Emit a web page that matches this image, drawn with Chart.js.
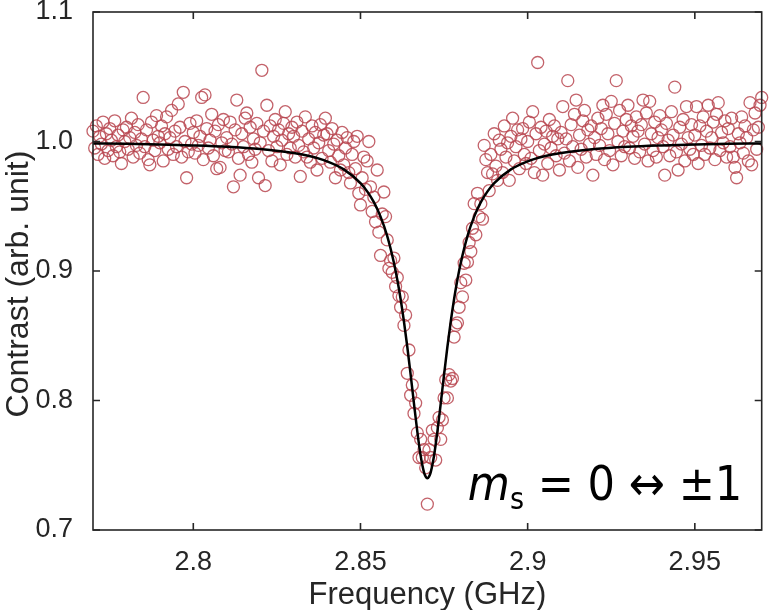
<!DOCTYPE html>
<html>
<head>
<meta charset="utf-8">
<script src="https://cdn.jsdelivr.net/npm/chart.js@4.4.1/dist/chart.umd.min.js"></script>
<style>
  html, body { margin: 0; padding: 0; background: #fff; }
</style>
</head>
<body>
<canvas id="odmr" width="769" height="610"></canvas>
<script>
// frequency sweep: 2.77 GHz to 2.97 GHz in 0.5 MHz steps
const freqStart = 2.77;
const freqStep = 0.0005;

// measured contrast, one value per sweep step (401 points)
const contrast = [
  1.008, 0.995, 1.012, 0.990, 1.004, 0.998, 1.015, 0.987, 1.006, 0.993, 1.010, 1.001, 0.989, 1.016, 0.996, 1.005, 0.992, 0.983, 1.009, 1.000,
  1.011, 0.994, 1.003, 1.018, 0.988, 1.007, 0.997, 1.013, 0.991, 1.002, 1.034, 0.996, 1.009, 0.986, 0.982, 1.015, 1.001, 0.993, 1.020, 1.004,
  0.999, 1.012, 0.985, 1.006, 1.019, 0.994, 1.003, 1.024, 0.990, 1.008, 0.996, 1.029, 1.011, 0.988, 1.038, 1.000, 0.972, 0.992, 1.014, 0.998,
  1.007, 0.991, 1.016, 0.997, 1.004, 1.034, 0.986, 1.036, 1.010, 0.995, 1.001, 1.021, 0.989, 1.008, 0.979, 1.013, 0.980, 0.999, 1.017, 0.993,
  1.003, 0.992, 1.015, 0.998, 0.965, 1.009, 1.032, 0.987, 0.974, 1.006, 0.996, 1.018, 1.022, 0.990, 1.011, 0.984, 1.002, 0.994, 1.014, 0.972,
  0.999, 1.055, 1.008, 0.966, 1.028, 0.993, 1.012, 0.985, 1.004, 1.017, 0.996, 1.009, 0.982, 1.001, 1.014, 1.023, 0.990, 1.006, 0.995, 1.011,
  1.004, 0.988, 1.015, 0.997, 0.973, 1.008, 0.992, 1.019, 0.988, 1.002, 0.984, 1.012, 0.995, 1.007, 0.978, 0.999, 1.013, 0.987, 1.005, 1.018,
  1.006, 0.993, 0.984, 1.010, 0.998, 0.972, 1.001, 0.989, 0.978, 1.007, 0.982, 0.995, 1.003, 0.976, 0.968, 0.990, 1.000, 0.979, 1.004, 0.960,
  0.951, 0.972, 0.988, 0.963, 0.985, 1.000, 0.965, 0.946, 0.957, 0.938, 0.978, 0.930, 0.912, 0.944, 0.961, 0.942, 0.924, 0.902, 0.908, 0.899,
  0.910, 0.888, 0.895, 0.881, 0.872, 0.880, 0.858, 0.866, 0.821, 0.839, 0.804, 0.812, 0.790, 0.798, 0.775, 0.756, 0.770, 0.756, 0.762, 0.748,
  0.720, 0.762, 0.756, 0.777, 0.770, 0.754, 0.779, 0.787, 0.770, 0.785, 0.802, 0.816, 0.802, 0.820, 0.815, 0.817, 0.849, 0.858, 0.860, 0.872,
  0.891, 0.880, 0.906, 0.893, 0.907, 0.922, 0.915, 0.933, 0.952, 0.928, 0.960, 0.942, 0.952, 0.940, 0.997, 0.986, 0.976, 0.962, 0.990, 0.975,
  1.006, 0.981, 0.970, 1.001, 0.994, 0.976, 1.012, 0.988, 0.999, 0.970, 1.004, 1.018, 0.985, 0.996, 1.009, 0.979, 1.002, 1.010, 0.990, 0.983,
  1.000, 1.015, 0.987, 1.023, 0.976, 1.006, 1.061, 0.993, 1.011, 0.974, 0.998, 1.008, 0.983, 1.017, 0.995, 1.004, 1.012, 0.989, 1.002, 0.978,
  1.007, 1.027, 0.991, 1.002, 1.047, 0.985, 1.013, 0.996, 1.021, 1.032, 0.980, 1.005, 0.994, 1.016, 1.024, 0.988, 1.009, 0.998, 1.012, 0.974,
  1.003, 0.990, 1.018, 0.997, 1.010, 1.028, 0.986, 1.021, 1.006, 0.993, 1.031, 0.982, 1.014, 1.047, 1.000, 1.024, 0.989, 1.008, 0.996, 1.017,
  1.028, 0.995, 1.012, 1.004, 0.987, 1.019, 1.008, 0.992, 1.013, 1.032, 0.998, 1.022, 0.985, 1.031, 1.006, 0.993, 1.015, 0.988, 1.003, 1.020,
  1.009, 0.996, 0.974, 1.014, 1.001, 0.989, 1.023, 1.005, 1.042, 0.992, 0.978, 1.011, 0.998, 1.017, 0.985, 1.027, 1.003, 0.994, 1.013, 0.990,
  1.005, 1.027, 0.983, 1.012, 0.997, 1.019, 0.990, 1.008, 1.028, 0.995, 1.003, 1.015, 0.986, 1.021, 1.030, 0.993, 1.007, 0.999, 1.016, 0.988,
  1.010, 0.996, 1.018, 0.988, 0.980, 0.972, 1.006, 0.999, 1.019, 0.991, 1.012, 1.003, 0.985, 1.030, 0.982, 1.009, 1.022, 0.994, 1.011, 1.028,
  1.034
];

// Lorentzian fit
const fitFreq = [
  2.77, 2.78, 2.79, 2.80, 2.81, 2.82, 2.83, 2.835, 2.84, 2.845, 2.85, 2.852, 2.854, 2.856, 2.858, 2.86,
  2.861, 2.862, 2.863, 2.864, 2.865, 2.866, 2.867, 2.868, 2.869, 2.8695, 2.87, 2.8705, 2.871, 2.872, 2.873,
  2.874, 2.875, 2.876, 2.877, 2.878, 2.879, 2.88, 2.882, 2.884, 2.886, 2.888, 2.89, 2.895, 2.90, 2.905,
  2.91, 2.92, 2.93, 2.94, 2.95, 2.96, 2.97
];
const fitContrast = [
  0.9985, 0.9982, 0.9977, 0.9970, 0.9960, 0.9943, 0.9912, 0.9886, 0.9847, 0.9785, 0.9679, 0.9615, 0.9532, 0.9420, 0.9270, 0.9064,
  0.8934, 0.8784, 0.8610, 0.8415, 0.8200, 0.7976, 0.7759, 0.7573, 0.7445, 0.7412, 0.7400, 0.7412, 0.7445, 0.7573, 0.7759,
  0.7976, 0.8200, 0.8415, 0.8610, 0.8784, 0.8934, 0.9064, 0.9270, 0.9420, 0.9532, 0.9615, 0.9679, 0.9785, 0.9847, 0.9886,
  0.9912, 0.9943, 0.9960, 0.9970, 0.9977, 0.9982, 0.9985
];

const xTicks = [2.8, 2.85, 2.9, 2.95];
const yTicks = [0.7, 0.8, 0.9, 1.0, 1.1];
const xLabel = 'Frequency (GHz)';
const yLabel = 'Contrast (arb. unit)';

const axisColor = '#262626';
const sans = "'Liberation Sans', Arial, sans-serif";
const tickFont = { family: sans, size: 27, lineHeight: 1 };
const xTitleFont = { family: sans, size: 31, lineHeight: 1 };

const points = contrast.map((v, i) => ({ x: freqStart + i * freqStep, y: v }));
const fitPoints = fitFreq.map((f, i) => ({ x: f, y: fitContrast[i] }));

// box around the plot, inward ticks on all sides, y title and the transition label
const framePlugin = {
  id: 'frame',
  afterDatasetsDraw(chart) {
    const { ctx, chartArea: a, scales: { x, y } } = chart;
    ctx.save();
    ctx.strokeStyle = axisColor;
    ctx.lineWidth = 1.6;
    ctx.strokeRect(a.left, a.top, a.right - a.left, a.bottom - a.top);
    ctx.beginPath();
    xTicks.forEach(v => {
      const px = x.getPixelForValue(v);
      ctx.moveTo(px, a.bottom); ctx.lineTo(px, a.bottom - 7);
      ctx.moveTo(px, a.top); ctx.lineTo(px, a.top + 7);
    });
    yTicks.forEach(v => {
      const py = y.getPixelForValue(v);
      ctx.moveTo(a.left, py); ctx.lineTo(a.left + 7, py);
      ctx.moveTo(a.right, py); ctx.lineTo(a.right - 7, py);
    });
    ctx.stroke();

    // rotated y title, sitting a little below the middle like the original
    ctx.save();
    ctx.translate(19, 284);
    ctx.rotate(-Math.PI / 2);
    ctx.fillStyle = axisColor;
    ctx.font = "32px " + sans;
    ctx.textAlign = 'center';
    ctx.textBaseline = 'middle';
    ctx.fillText(yLabel, 0, 0);
    ctx.restore();

    // m_s = 0 <-> ±1
    let tx = x.getPixelForValue(2.8821);
    const ty = y.getPixelForValue(0.7235);
    ctx.fillStyle = '#000';
    ctx.textBaseline = 'alphabetic';
    ctx.textAlign = 'left';
    ctx.font = "italic 48px 'DejaVu Sans Condensed', 'DejaVu Sans'";
    ctx.fillText('m', tx, ty);
    tx += ctx.measureText('m').width;
    ctx.font = "30px 'DejaVu Sans Condensed', 'DejaVu Sans'";
    ctx.fillText('s', tx, ty + 9);
    tx += ctx.measureText('s').width;
    ctx.font = "48px 'DejaVu Sans Condensed', 'DejaVu Sans'";
    ctx.fillText(' = 0 \u2194 \u00b11', tx, ty);
    ctx.restore();
  }
};

new Chart(document.getElementById('odmr'), {
  data: {
    datasets: [
      {
        type: 'line',
        data: fitPoints,
        borderColor: '#000',
        borderWidth: 2.5,
        pointRadius: 0,
        fill: false,
        cubicInterpolationMode: 'monotone',
        order: 0
      },
      {
        type: 'scatter',
        data: points,
        clip: false,
        pointStyle: 'circle',
        pointRadius: 6,
        pointBorderWidth: 1.3,
        pointBorderColor: 'rgba(185, 70, 80, 0.85)',
        pointBackgroundColor: 'rgba(255, 255, 255, 0)',
        order: 1
      }
    ]
  },
  options: {
    responsive: false,
    animation: false,
    devicePixelRatio: 1,
    layout: { padding: { top: 12, right: 7, left: 0, bottom: 0 } },
    plugins: { legend: { display: false }, tooltip: { enabled: false } },
    scales: {
      x: {
        type: 'linear',
        min: 2.77,
        max: 2.97,
        afterBuildTicks: s => { s.ticks = xTicks.map(v => ({ value: v })); },
        afterFit: s => { s.height = 80; s.paddingLeft = 0; s.paddingRight = 0; },
        grid: { display: false },
        border: { display: false },
        ticks: { color: axisColor, font: tickFont, padding: 11, maxRotation: 0, callback: v => String(v) },
        title: { display: true, text: xLabel, color: axisColor, font: xTitleFont, padding: { top: 0, bottom: -1 } }
      },
      y: {
        type: 'linear',
        min: 0.7,
        max: 1.1,
        afterBuildTicks: s => { s.ticks = yTicks.map(v => ({ value: v })); },
        afterFit: s => { s.width = 93; s.paddingTop = 0; s.paddingBottom = 0; },
        grid: { display: false },
        border: { display: false },
        ticks: { color: axisColor, font: tickFont, padding: 12, callback: v => v.toFixed(1) },
        title: { display: false }
      }
    }
  },
  plugins: [framePlugin]
});
</script>
</body>
</html>
